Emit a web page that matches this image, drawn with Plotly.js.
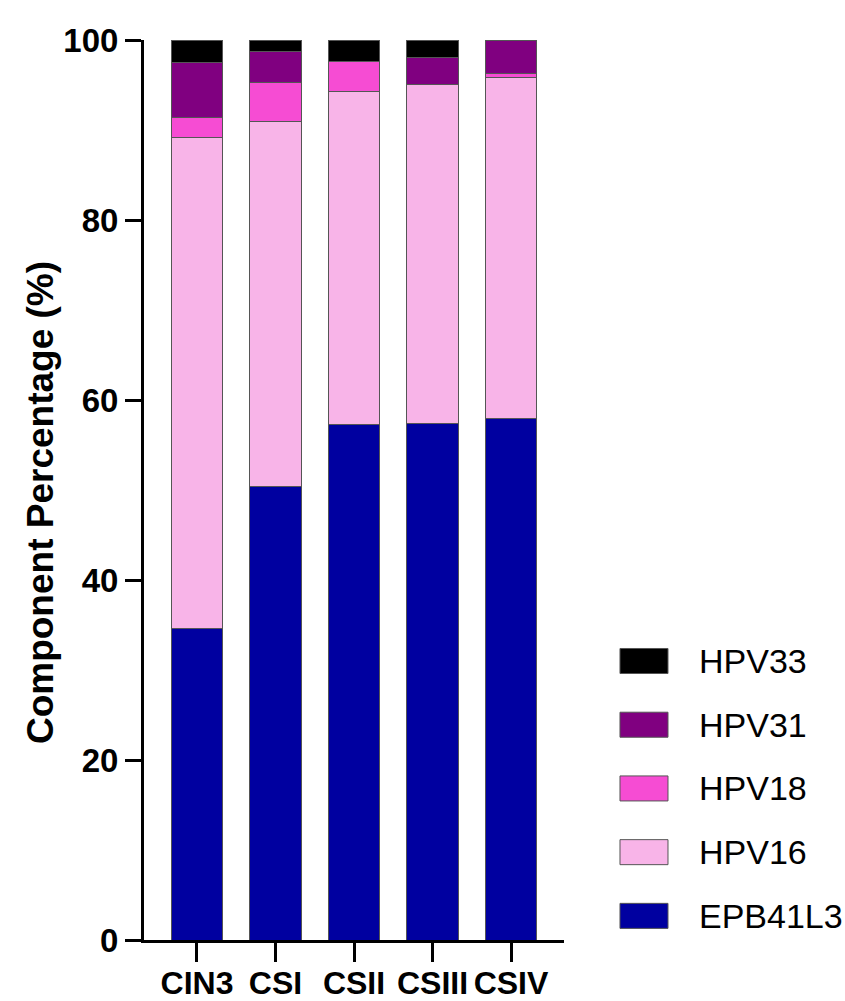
<!DOCTYPE html>
<html>
<head>
<meta charset="utf-8">
<script src="https://cdn.plot.ly/plotly-3.0.1.min.js"></script>
<style>html,body{margin:0;padding:0;background:#fff;}#chart{width:845px;height:1001px;}</style>
</head>
<body>
<div id="chart"></div>
<script>
const categories = ["CIN3", "CSI", "CSII", "CSIII", "CSIV"];
const EPB41L3 = [34.6, 50.4, 57.3, 57.4, 57.9];
const HPV16 = [54.6, 40.5, 37.0, 37.7, 37.9];
const HPV18 = [2.2, 4.4, 3.3, 0.0, 0.5];
const HPV31 = [6.1, 3.4, 0.0, 3.0, 3.7];
const HPV33 = [2.5, 1.3, 2.4, 1.9, 0.0];
const yTicks = [0, 20, 40, 60, 80, 100];
const yTitle = "Component Percentage (%)";

const seriesNames = ["EPB41L3", "HPV16", "HPV18", "HPV31", "HPV33"];
const seriesValues = [EPB41L3, HPV16, HPV18, HPV31, HPV33];
const seriesColors = ["#0000a0", "#f8b4e8", "#f64cd3", "#800080", "#000000"];

const FONT = "Liberation Sans, Arial, sans-serif";

const traces = seriesNames.map((name, i) => ({
  type: "bar",
  name: name,
  x: categories,
  y: seriesValues[i],
  width: 0.66,
  marker: { color: seriesColors[i], line: { color: "#555555", width: 1 } },
  showlegend: false,
  hoverinfo: "x+y+name"
}));

// custom legend (top to bottom: reverse order)
const shapes = [];
const annotations = [];
const legendOrder = seriesNames.map((_, i) => i).reverse();
legendOrder.forEach((si, k) => {
  const yc = 0.31 - k * 0.0708;
  shapes.push({
    type: "rect", xref: "paper", yref: "paper",
    x0: 1.1333, x1: 1.2476, y0: yc - 0.0139, y1: yc + 0.0139,
    fillcolor: seriesColors[si], line: { color: "#555555", width: 1 }
  });
  annotations.push({
    xref: "paper", yref: "paper", x: 1.3167, y: yc,
    xanchor: "left", yanchor: "middle", showarrow: false,
    text: seriesNames[si],
    font: { family: FONT, size: 34, color: "#000" }
  });
});

// y axis title
annotations.push({
  xref: "paper", yref: "paper", x: -0.245, y: 0.4856,
  xanchor: "center", yanchor: "middle", showarrow: false,
  textangle: -90,
  text: yTitle,
  font: { family: FONT, size: 37, color: "#000", weight: "bold" }
});

const layout = {
  width: 845, height: 1001,
  margin: { l: 144, r: 281, t: 40, b: 61 },
  paper_bgcolor: "#fff", plot_bgcolor: "#fff",
  barmode: "stack",
  showlegend: false,
  xaxis: {
    type: "category",
    range: [-0.675, 4.675],
    showline: true, linecolor: "#000", linewidth: 3,
    ticks: "outside", ticklen: 19, tickwidth: 3, tickcolor: "#000",
    tickangle: 0,
    ticklabelstandoff: -6,
    showgrid: false, zeroline: false,
    tickfont: { family: FONT, size: 32, color: "#000", weight: "bold" }
  },
  yaxis: {
    range: [0, 100],
    tickvals: yTicks,
    ticktext: yTicks.map(String),
    showline: true, linecolor: "#000", linewidth: 3,
    ticks: "outside", ticklen: 16, tickwidth: 3, tickcolor: "#000",
    showgrid: false, zeroline: false,
    tickfont: { family: FONT, size: 33, color: "#000", weight: "bold" }
  },
  shapes: shapes,
  annotations: annotations
};

Plotly.newPlot("chart", traces, layout, { displayModeBar: false, staticPlot: true });
</script>
</body>
</html>
